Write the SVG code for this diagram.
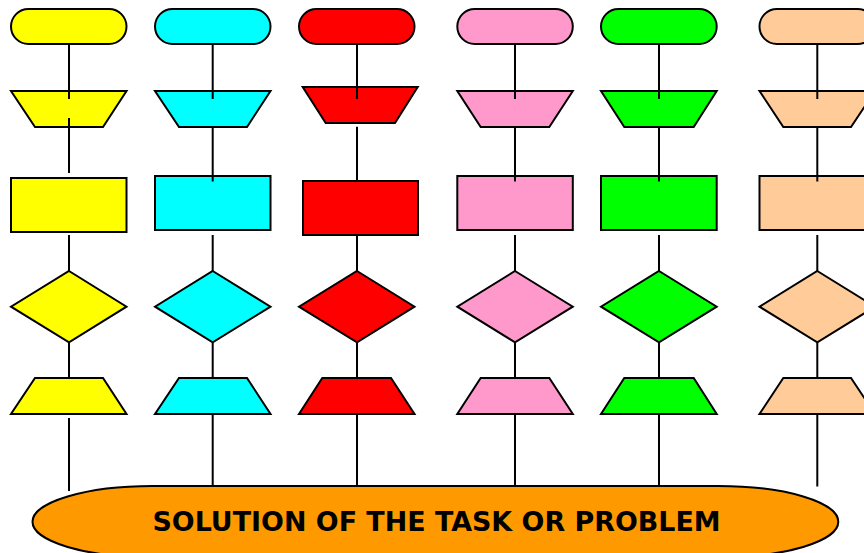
<svg xmlns="http://www.w3.org/2000/svg" width="864" height="553" viewBox="0 0 864 553">
  <style>
    .s { stroke: #000; stroke-width: 2; stroke-linejoin: miter; }
    .c1 { fill: #FFFF00; }
    .c2 { fill: #00FFFF; }
    .c3 { fill: #FF0000; }
    .c4 { fill: #FF99CC; }
    .c5 { fill: #00FF00; }
    .c6 { fill: #FFCC99; }
    .link { stroke: #000; stroke-width: 2; fill: none; }
    .label { font-family: "DejaVu Sans", Verdana, sans-serif; font-weight: bold; font-size: 26.9px; fill: #000; }
  </style>
  <rect width="864" height="553" fill="#fff"/>

  <!-- column 1: yellow -->
  <g id="y-start"><rect class="s c1" x="11" y="9" width="115.5" height="35" rx="17.5"/></g>
  <g id="y-manual"><polygon class="s c1" points="11,91 126.5,91 103,127 35,127"/></g>
  <g id="y-process"><rect class="s c1" x="11" y="178" width="115.5" height="54"/></g>
  <g id="y-decision"><polygon class="s c1" points="69,271 126.5,306.7 69,342.3 11,306.7"/></g>
  <g id="y-output"><polygon class="s c1" points="35,378 103,378 126.5,414 11,414"/></g>

  <!-- column 2: cyan -->
  <g id="c-start"><rect class="s c2" x="155" y="9" width="115.5" height="35" rx="17.5"/></g>
  <g id="c-manual"><polygon class="s c2" points="155,91 270.5,91 247,127 179,127"/></g>
  <g id="c-process"><rect class="s c2" x="155" y="176" width="115.5" height="54"/></g>
  <g id="c-decision"><polygon class="s c2" points="212.7,271 270.5,306.7 212.7,342.3 155,306.7"/></g>
  <g id="c-output"><polygon class="s c2" points="179,378 247,378 270.5,414 155,414"/></g>

  <!-- column 3: red -->
  <g id="r-start"><rect class="s c3" x="299" y="9" width="115.5" height="35" rx="17.5"/></g>
  <g id="r-manual"><polygon class="s c3" points="302.7,87 417.7,87 395,123 325.7,123"/></g>
  <g id="r-process"><rect class="s c3" x="303" y="181" width="115" height="54"/></g>
  <g id="r-decision"><polygon class="s c3" points="357,271 414.5,306.7 357,342.3 299,306.7"/></g>
  <g id="r-output"><polygon class="s c3" points="322.3,378 391,378 414.5,414 299,414"/></g>

  <!-- column 4: pink -->
  <g id="p-start"><rect class="s c4" x="457.3" y="9" width="115.5" height="35" rx="17.5"/></g>
  <g id="p-manual"><polygon class="s c4" points="457.3,91 572.8,91 549.3,127 480.7,127"/></g>
  <g id="p-process"><rect class="s c4" x="457.3" y="176" width="115.5" height="54"/></g>
  <g id="p-decision"><polygon class="s c4" points="515,271 572.8,306.7 515,342.3 457.3,306.7"/></g>
  <g id="p-output"><polygon class="s c4" points="480.7,378 549.3,378 572.8,414 457.3,414"/></g>

  <!-- column 5: green -->
  <g id="g-start"><rect class="s c5" x="601" y="9" width="115.7" height="35" rx="17.5"/></g>
  <g id="g-manual"><polygon class="s c5" points="601,91 716.7,91 693.7,127 624.3,127"/></g>
  <g id="g-process"><rect class="s c5" x="601" y="176" width="115.7" height="54"/></g>
  <g id="g-decision"><polygon class="s c5" points="659,271 716.7,306.7 659,342.3 601,306.7"/></g>
  <g id="g-output"><polygon class="s c5" points="624.3,378 693.7,378 716.7,414 601,414"/></g>

  <!-- column 6: peach -->
  <g id="o-start"><rect class="s c6" x="759.5" y="9" width="115.5" height="35" rx="17.5"/></g>
  <g id="o-manual"><polygon class="s c6" points="759.5,91 875,91 851,127 783.3,127"/></g>
  <g id="o-process"><rect class="s c6" x="759.5" y="176" width="115.5" height="54"/></g>
  <g id="o-decision"><polygon class="s c6" points="817.3,271 875,306.7 817.3,342.3 759.5,306.7"/></g>
  <g id="o-output"><polygon class="s c6" points="783.3,378 851,378 875,414 759.5,414"/></g>

  <!-- connectors -->
  <g id="connectors" class="link">
    <path d="M69,44V99 M69,118V173 M69,235V271 M69,342.3V378 M69,418V491"/>
    <path d="M212.7,44V99 M212.7,127V181.5 M212.7,235V271 M212.7,342.3V378 M212.7,414V486"/>
    <path d="M357,44V99 M357,126.7V181 M357,235V271 M357,342.3V378 M357,414V486"/>
    <path d="M515,44V99 M515,127V181.5 M515,235V271 M515,342.3V378 M515,414V486"/>
    <path d="M659,44V99 M659,127V181.5 M659,235V271 M659,342.3V378 M659,414V486"/>
    <path d="M817.3,44V99 M817.3,127V181.5 M817.3,235V271 M817.3,342.3V378 M817.3,414V486.5"/>
  </g>

  <!-- result terminator -->
  <g id="solution">
    <rect class="s" x="32.5" y="486" width="805.8" height="71.4" rx="120" ry="35.7" fill="#FF9900"/>
    <text class="label" x="436.5" y="531" text-anchor="middle">SOLUTION OF THE TASK OR PROBLEM</text>
  </g>
</svg>
